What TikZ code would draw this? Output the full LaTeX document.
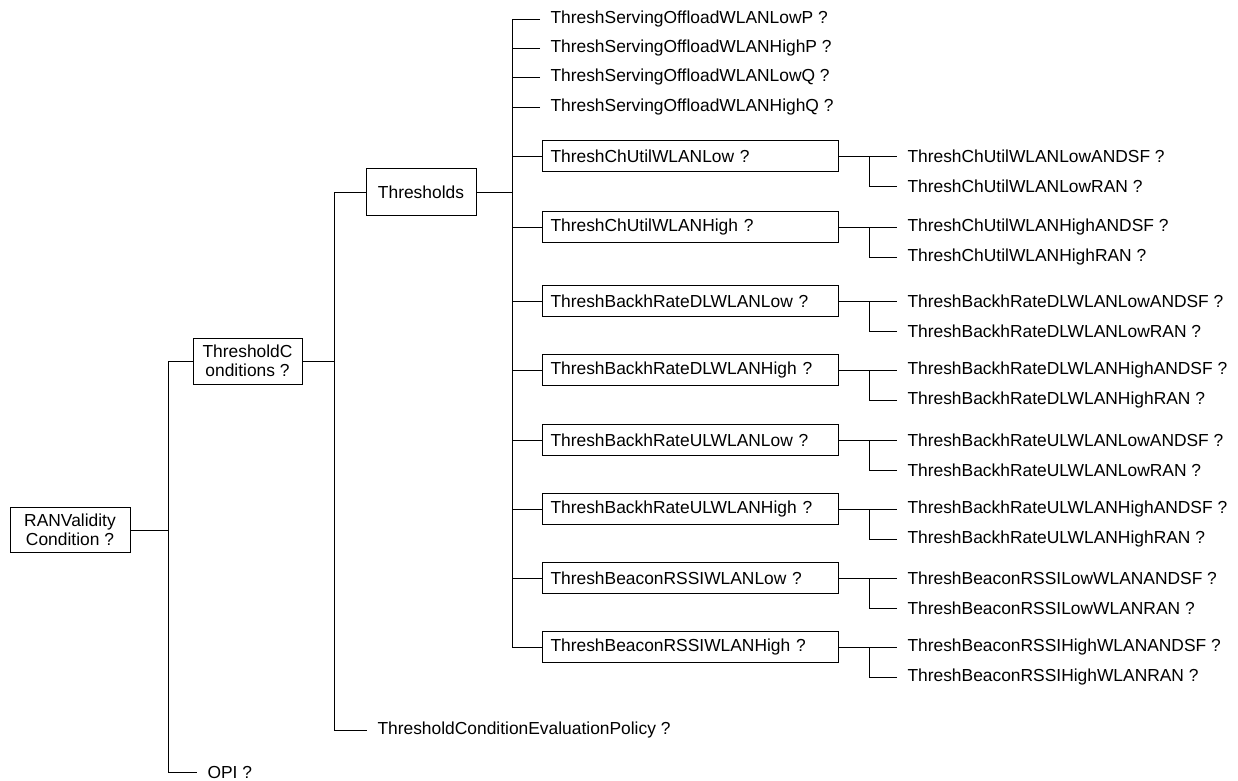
\documentclass[tikz,border=0pt]{standalone}
\usepackage{fontspec}
\setmainfont{Liberation Sans}
\begin{document}
\begin{tikzpicture}[x=1pt, y=-1pt, line width=1pt,
  box/.style={draw, inner sep=0pt, align=center, font=\fontsize{17.4}{19}\selectfont},
  tbox/.style={draw, anchor=west, minimum height=31pt, inner xsep=8pt, inner ysep=0pt, text width=280pt, align=left, font=\fontsize{17.4}{19}\selectfont},
  leaf/.style={anchor=west, inner xsep=10pt, inner ysep=0pt, font=\fontsize{17.4}{19}\selectfont}]
\useasboundingbox (0,0) rectangle (1238,780);
\coordinate (b1) at (168,772);
\coordinate (b2) at (334,730);
\coordinate (b3) at (512,647);
\coordinate (j) at (869,0);
\node[box, minimum width=120pt, minimum height=45pt] (rvc) at (70,530) {RANValidity\\Condition ?};
\node[box, minimum width=109pt, minimum height=46pt] (tcond) at (247.5,361) {ThresholdC\\onditions ?};
\node[box, minimum width=110pt, minimum height=47pt] (thr) at (421,192) {Thresholds};
\node[leaf] (opi) at (197,772) {OPI ?};
\node[leaf] (tcep) at (367,730) {ThresholdConditionEvaluationPolicy ?};
\draw (rvc.east) -- (rvc.east -| b1);
\draw (tcond.west) -| (b1) -- (opi.west);
\draw (tcond.east) -- (tcond.east -| b2);
\draw (thr.west) -| (b2) -- (tcep.west);
\draw (thr.east) -- (thr.east -| b3);
\node[leaf] (svlp) at (540,19) {ThreshServingOffloadWLANLowP ?};
\node[leaf] (svhp) at (540,48) {ThreshServingOffloadWLANHighP ?};
\node[leaf] (svlq) at (540,77) {ThreshServingOffloadWLANLowQ ?};
\node[leaf] (svhq) at (540,107) {ThreshServingOffloadWLANHighQ ?};
\node[tbox] (cul) at (542,156) {ThreshChUtilWLANLow ?};
\node[tbox] (cuh) at (542,227) {ThreshChUtilWLANHigh ?};
\node[tbox] (dll) at (542,301) {ThreshBackhRateDLWLANLow ?};
\node[tbox] (dlh) at (542,370) {ThreshBackhRateDLWLANHigh ?};
\node[tbox] (ull) at (542,440) {ThreshBackhRateULWLANLow ?};
\node[tbox] (ulh) at (542,509) {ThreshBackhRateULWLANHigh ?};
\node[tbox] (rsl) at (542,578) {ThreshBeaconRSSIWLANLow ?};
\node[tbox] (rsh) at (542,647) {ThreshBeaconRSSIWLANHigh ?};
\draw (svlp.west) -| (b3) -- (rsh.west);
\draw (svhp.west) -- (svhp.west -| b3) (svlq.west) -- (svlq.west -| b3) (svhq.west) -- (svhq.west -| b3);
\draw (cul.west) -- (cul.west -| b3) (cuh.west) -- (cuh.west -| b3) (dll.west) -- (dll.west -| b3);
\draw (dlh.west) -- (dlh.west -| b3) (ull.west) -- (ull.west -| b3) (ulh.west) -- (ulh.west -| b3);
\draw (rsl.west) -- (rsl.west -| b3);
\node[leaf] (culA) at (897,156) {ThreshChUtilWLANLowANDSF ?};
\node[leaf] (culR) at (897,186) {ThreshChUtilWLANLowRAN ?};
\node[leaf] (cuhA) at (897,227) {ThreshChUtilWLANHighANDSF ?};
\node[leaf] (cuhR) at (897,257) {ThreshChUtilWLANHighRAN ?};
\node[leaf] (dllA) at (897,301) {ThreshBackhRateDLWLANLowANDSF ?};
\node[leaf] (dllR) at (897,331) {ThreshBackhRateDLWLANLowRAN ?};
\node[leaf] (dlhA) at (897,370) {ThreshBackhRateDLWLANHighANDSF ?};
\node[leaf] (dlhR) at (897,400) {ThreshBackhRateDLWLANHighRAN ?};
\node[leaf] (ullA) at (897,440) {ThreshBackhRateULWLANLowANDSF ?};
\node[leaf] (ullR) at (897,470) {ThreshBackhRateULWLANLowRAN ?};
\node[leaf] (ulhA) at (897,509) {ThreshBackhRateULWLANHighANDSF ?};
\node[leaf] (ulhR) at (897,539) {ThreshBackhRateULWLANHighRAN ?};
\node[leaf] (rslA) at (897,578) {ThreshBeaconRSSILowWLANANDSF ?};
\node[leaf] (rslR) at (897,608) {ThreshBeaconRSSILowWLANRAN ?};
\node[leaf] (rshA) at (897,647) {ThreshBeaconRSSIHighWLANANDSF ?};
\node[leaf] (rshR) at (897,677) {ThreshBeaconRSSIHighWLANRAN ?};
\draw (cul.east) -- (culA.west) (culR.west) -| (j |- cul.east);
\draw (cuh.east) -- (cuhA.west) (cuhR.west) -| (j |- cuh.east);
\draw (dll.east) -- (dllA.west) (dllR.west) -| (j |- dll.east);
\draw (dlh.east) -- (dlhA.west) (dlhR.west) -| (j |- dlh.east);
\draw (ull.east) -- (ullA.west) (ullR.west) -| (j |- ull.east);
\draw (ulh.east) -- (ulhA.west) (ulhR.west) -| (j |- ulh.east);
\draw (rsl.east) -- (rslA.west) (rslR.west) -| (j |- rsl.east);
\draw (rsh.east) -- (rshA.west) (rshR.west) -| (j |- rsh.east);
\end{tikzpicture}
\end{document}
